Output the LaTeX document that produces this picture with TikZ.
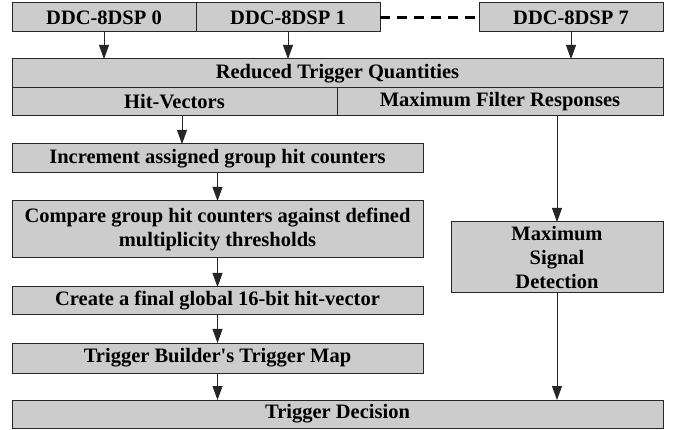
\documentclass[tikz,border=0pt]{standalone}
\usepackage{fontspec}
\setmainfont{Liberation Serif}
\usetikzlibrary{arrows.meta}

\begin{document}
\begin{tikzpicture}[x=1pt,y=-1pt]
		\tikzset{
			gbox/.style={
				draw=black!85, line width=1pt, fill=gray!40, inner sep=0pt, outer sep=0pt,
				font=\fontsize{20.5}{24}\selectfont\bfseries, align=center
			},
			arr/.style={
				draw=black!85, line width=0.8pt, -{Triangle[length=14pt,width=10pt]}
			},
			dline/.style={
				draw=black, line width=3pt, dash pattern=on 10pt off 7pt
			}
		}
		\useasboundingbox (0,0) rectangle (680,430);
		
		\foreach \i/\x in {0/104, 1/288, 7/571}{
			\node [gbox, minimum width=184pt, minimum height=29pt] (d\i) at (\x,17.5) {DDC-8DSP \i};
		}
		
		\node [gbox, minimum width=651pt, minimum height=29pt] (rtq) at (337.5,73.5) {Reduced Trigger Quantities};
		\node [gbox, minimum width=325pt, minimum height=28pt] (hv) at (174.5,102) {Hit-Vectors};
		\node [gbox, minimum width=326pt, minimum height=28pt] (mfr) at (500,102) {Maximum Filter Responses};
		
		\node [gbox, minimum width=411pt, minimum height=29pt] (inc) at (217.5,158.5) {Increment assigned group hit counters};
		\node [gbox, minimum width=411pt, minimum height=57pt] (cmp) at (217.5,229.5) {Compare group hit counters against defined\\multiplicity thresholds};
		\node [gbox, minimum width=411pt, minimum height=28pt] (cre) at (217.5,301) {Create a final global 16-bit hit-vector};
		\node [gbox, minimum width=411pt, minimum height=30pt] (tbm) at (217.5,358) {Trigger Builder\textquotesingle s Trigger Map};
		
		\node [gbox, minimum width=212pt, minimum height=71pt] (msd) at (557,257.5) {Maximum\\Signal\\Detection};
		\node [gbox, minimum width=651pt, minimum height=28pt] (dec) at (337.5,414) {Trigger Decision};
		
		\path (d1) edge [dline] (d7);
		
		\foreach \i in {0, 1, 7}{
			\path (d\i) edge [arr] (d\i |- rtq.north);
		}
		
		\path ([xshift=7.5pt]hv.south) edge [arr] ([xshift=7.5pt]hv.south |- inc.north);
		\path (inc) edge [arr] (cmp);
		\path (cmp) edge [arr] (cre);
		\path (cre) edge [arr] (tbm);
		\path (tbm) edge [arr] (tbm |- dec.north);
		
		\path (msd |- mfr.south) edge [arr] (msd);
		\path (msd) edge [arr] (msd |- dec.north);
		\end{tikzpicture}
\end{document}
